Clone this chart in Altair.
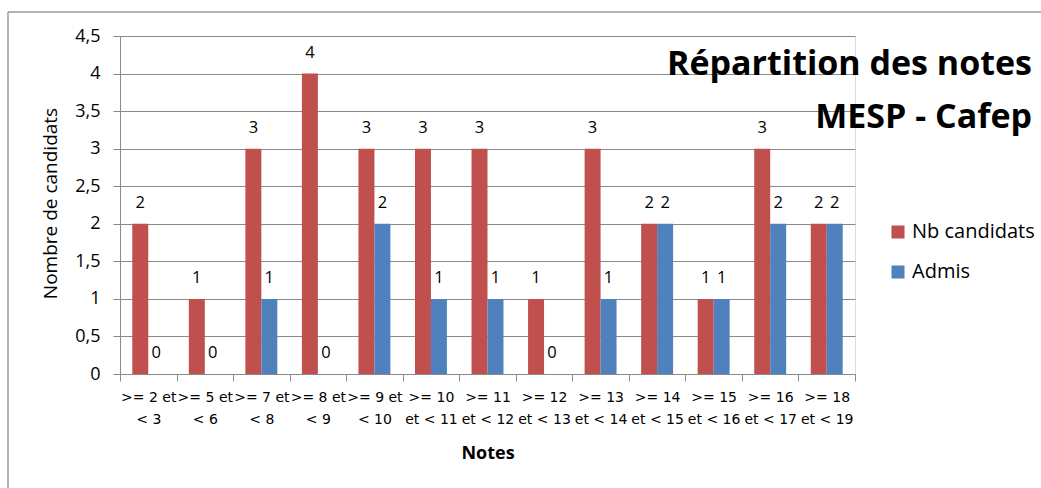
import altair as alt
import pandas as pd

# Grade brackets (two-line labels) and counts per bracket
categories = [
    ">= 2 et|< 3", ">= 5 et|< 6", ">= 7 et|< 8", ">= 8 et|< 9", ">= 9 et|< 10",
    ">= 10|et < 11", ">= 11|et < 12", ">= 12|et < 13", ">= 13|et < 14",
    ">= 14|et < 15", ">= 15|et < 16", ">= 16|et < 17", ">= 18|et < 19",
]
nb_candidats = [2, 1, 3, 4, 3, 3, 3, 1, 3, 2, 1, 3, 2]
admis = [0, 0, 1, 0, 2, 1, 1, 0, 1, 2, 1, 2, 2]
series_names = ["Nb candidats", "Admis"]
series_colors = ["#C0504D", "#4F81BD"]
y_ticks = [0, 0.5, 1, 1.5, 2, 2.5, 3, 3.5, 4, 4.5]

rows = []
for cat, n, a in zip(categories, nb_candidats, admis):
    rows.append({"tranche": cat, "serie": series_names[0], "valeur": n})
    rows.append({"tranche": cat, "serie": series_names[1], "valeur": a})
df = pd.DataFrame(rows)

FONT = "Open Sans"
GRID = "#8a8a8a"

x_enc = alt.X(
    "tranche:N",
    sort=categories,
    scale=alt.Scale(paddingInner=0, paddingOuter=0),
    axis=alt.Axis(
        title="Notes",
        labelExpr="split(datum.label, '|')",
        labelAngle=0,
        labelFontSize=14,
        labelFont="DejaVu Sans",
        labelColor="black",
        labelPadding=9,
        labelLineHeight=22,
        tickBand="extent",
        tickSize=7,
        tickColor=GRID,
        domainColor=GRID,
        grid=False,
        titleFont=FONT,
        titleFontSize=18,
        titleFontWeight="bold",
        titleColor="black",
        titleBaseline="middle",
        titleY=79,
    ),
)
xoff_enc = alt.XOffset(
    "serie:N",
    sort=series_names,
    scale=alt.Scale(paddingInner=0, paddingOuter=0.77),
)
y_enc = alt.Y(
    "valeur:Q",
    scale=alt.Scale(domain=[0, 4.5], nice=False, zero=True),
    axis=alt.Axis(
        title="Nombre de candidats",
        values=y_ticks,
        labelOverlap=False,
        labelExpr="replace(toString(datum.value), '.', ',')",
        labelFontSize=18,
        labelFont=FONT,
        labelColor="black",
        labelPadding=13,
        tickSize=7,
        tickColor=GRID,
        domainColor=GRID,
        gridColor=GRID,
        gridOpacity=1,
        titleFont=FONT,
        titleFontSize=19,
        titleFontWeight="normal",
        titleColor="black",
        titleBaseline="middle",
        titleX=-70,
        titleY=167,
    ),
)
color_enc = alt.Color(
    "serie:N",
    sort=series_names,
    scale=alt.Scale(domain=series_names, range=series_colors),
    legend=alt.Legend(
        title=None,
        orient="none",
        legendX=768,
        legendY=186,
        symbolType="square",
        symbolSize=170,
        symbolStrokeWidth=0,
        labelFont=FONT,
        labelFontSize=20,
        labelColor="black",
        labelOffset=4,
        rowPadding=20,
    ),
)

base = alt.Chart(df)

bars = base.mark_bar().encode(x=x_enc, xOffset=xoff_enc, y=y_enc, color=color_enc)

labels = base.mark_text(
    font=FONT, fontSize=16.5, color="black", baseline="alphabetic", dy=-16
).encode(
    x=x_enc,
    xOffset=xoff_enc,
    y=y_enc,
    text="valeur:Q",
)

# Frame of the surrounding chart object (top and left edges)
frame_data = alt.Data(values=[{}])
frame_top = alt.Chart(frame_data).mark_rule(color="#9a9a9a", strokeWidth=1.5).encode(
    x=alt.value(-112), x2=alt.value(930), y=alt.value(-24)
)
frame_left = alt.Chart(frame_data).mark_rule(color="#9a9a9a", strokeWidth=1.5).encode(
    x=alt.value(-112), y=alt.value(-24), y2=alt.value(460)
)

chart = (
    alt.layer(bars, labels, frame_top, frame_left)
    .properties(
        width=735,
        height=338,
        autosize=alt.AutoSizeParams(type="none"),
        padding={"left": 120, "top": 36, "right": 186, "bottom": 114},
        title=alt.TitleParams(
            text=["Répartition des notes", "MESP - Cafep"],
            anchor="end",
            frame="group",
            orient="top",
            offset=0,
            baseline="alphabetic",
            dx=177,
            dy=151,
            font=FONT,
            fontSize=34,
            fontWeight="bold",
            lineHeight=53,
            color="black",
        ),
    )
    .configure_view(stroke=None)
    .configure(background="white")
)

chart.save("out.html", embed_options={"renderer": "svg", "actions": False})
